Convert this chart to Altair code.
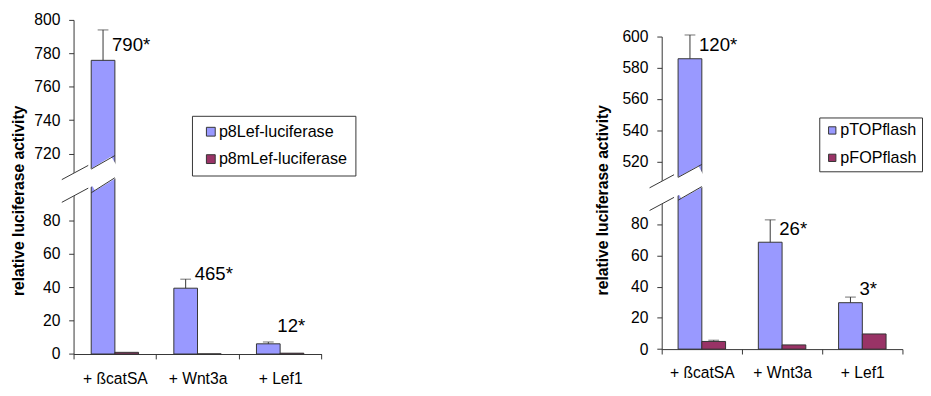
import altair as alt
import pandas as pd

# ---------------- data ----------------
categories = ["+ ßcatSA", "+ Wnt3a", "+ Lef1"]

left_series = ["p8Lef-luciferase", "p8mLef-luciferase"]
left_reporter = [775.8, 39.4, 6.1]
left_reporter_err = [18.2, 5.4, 1.1]
left_mutant = [1.0, 0.08, 0.5]
left_mutant_err = [0.0, 0.0, 0.0]
left_fold = ["790*", "465*", "12*"]
left_fold_at = [785.0, 47.7, 16.6]
left_ticks = [0, 20, 40, 60, 80, 720, 740, 760, 780, 800]

right_series = ["pTOPflash", "pFOPflash"]
right_reporter = [585.8, 68.4, 29.7]
right_reporter_err = [15.2, 14.3, 3.6]
right_mutant = [4.9, 2.7, 9.7]
right_mutant_err = [0.8, 0.0, 0.0]
right_fold = ["120*", "26*", "3*"]
right_fold_at = [594.3, 76.9, 38.5]
right_ticks = [0, 20, 40, 60, 80, 520, 540, 560, 580, 600]

# axis break: values above CUT are drawn shifted down by the panel's shift
CUT = 100
left_shift = 600
right_shift = 400

# ---------------- styling ----------------
BLUE = "#9999FF"
RED = "#993366"
EDGE = "#333333"
FONT = "Liberation Sans"
TITLE = "relative luciferase activity"
one = pd.DataFrame({"k": [0]})
PANEL_H = 341.4


def pv(v, shift):
    return v - shift if v > CUT else v


def panel(series, reporter, reporter_err, mutant, mutant_err, fold, fold_at, ticks, shift,
          width, yrange, pad_outer, legend, title_xy, whites, blacks, xpad):
    rows = []
    for i, c in enumerate(categories):
        for s, val, err in ((series[0], reporter[i], reporter_err[i]),
                            (series[1], mutant[i], mutant_err[i])):
            rows.append({"cat": c, "series": s, "value": val,
                         "plot": pv(val, shift), "top": pv(val + err, shift), "err": err})
    df = pd.DataFrame(rows)
    lab = pd.DataFrame({"cat": categories, "series": [series[1]] * 3, "text": fold,
                        "plot": [pv(v, shift) for v in fold_at]})

    x_axis = alt.Axis(title=None, labelAngle=0, tickBand="extent", labelFontSize=16,
                      labelFont=FONT, labelColor="black", labelPadding=xpad,
                      tickSize=5, tickColor=EDGE, domainColor=EDGE, zindex=0,
                      offset=yrange[0] - PANEL_H)
    x_scale = alt.Scale(paddingInner=0, paddingOuter=0)
    y_axis = alt.Axis(values=[pv(t, shift) for t in ticks],
                      labelExpr=f"datum.value > {CUT} ? datum.value + {shift} : datum.value",
                      labelOverlap=False, labelFlush=False,
                      grid=False, tickSize=5, tickColor=EDGE, domainColor=EDGE,
                      labelFontSize=16, labelFont=FONT, labelColor="black", labelPadding=9,
                      title=TITLE, titleFont=FONT, titleFontSize=16, titleFontWeight="bold",
                      titleColor="black", titleAngle=270, titleX=title_xy[0], titleY=title_xy[1],
                      titleAlign="center", titleBaseline="middle", zindex=0)
    y_scale = alt.Scale(domain=[0, 200], nice=False, range=list(yrange))

    def X():
        return alt.X("cat:N", sort=categories, scale=x_scale, axis=x_axis)

    def XO():
        return alt.XOffset("series:N", sort=series,
                           scale=alt.Scale(domain=series, paddingInner=0, paddingOuter=pad_outer))

    def Y(field):
        return alt.Y(field, type="quantitative", scale=y_scale, axis=y_axis)

    color = alt.Color("series:N", sort=series,
                      scale=alt.Scale(domain=series, range=[BLUE, RED]),
                      legend=alt.Legend(**legend))

    base = alt.Chart(df)
    bars = base.mark_bar(stroke=EDGE, strokeWidth=1).encode(x=X(), xOffset=XO(), y=Y("plot"), color=color)

    def seg(x1, y1, x2, y2, col, w):
        return alt.Chart(one).mark_rule(color=col, strokeWidth=w, strokeCap="butt").encode(
            x=alt.value(x1), x2=alt.value(x2),
            y=alt.Y(datum=y1, scale=y_scale, axis=y_axis), y2=alt.datum(y2))

    layers = [bars]
    for (x1, y1, x2, y2, w) in whites:
        layers.append(seg(x1, y1, x2, y2, "white", w))
    for (x1, y1, x2, y2) in blacks:
        layers.append(seg(x1, y1, x2, y2, EDGE, 1))

    err_base = base.transform_filter("datum.err > 0")
    err_line = err_base.mark_rule(color=EDGE, strokeWidth=1).encode(
        x=X(), xOffset=XO(), y=Y("plot"), y2="top:Q")
    err_cap = err_base.mark_tick(color=EDGE, thickness=1, size=11, orient="horizontal").encode(
        x=X(), xOffset=XO(), y=Y("top"))
    labels = alt.Chart(lab).mark_text(font=FONT, fontSize=19, align="left", baseline="middle",
                                      dx=-15, color="black").encode(
        x=X(), xOffset=XO(), y=Y("plot"), text="text:N")
    layers += [err_line, err_cap, labels]
    return alt.layer(*layers).properties(width=width, height=PANEL_H)


left_legend = dict(title=None, orient="none", legendX=121, legendY=98, direction="vertical",
                   symbolType="square", symbolSize=81, symbolStrokeColor=EDGE, symbolStrokeWidth=1,
                   labelFontSize=16.5, labelFont=FONT, labelColor="black", rowPadding=11,
                   padding=8, symbolOffset=3, labelOffset=0, strokeColor=EDGE, fillColor="white")
right_legend = dict(title=None, orient="none", legendX=161, legendY=99.7, direction="vertical",
                    symbolType="square", symbolSize=56, symbolStrokeColor=EDGE, symbolStrokeWidth=1,
                    labelFontSize=16.5, labelFont=FONT, labelColor="black", rowPadding=11,
                    padding=5, symbolOffset=0, labelOffset=0, strokeColor=EDGE, fillColor="white")

left = panel(left_series, left_reporter, left_reporter_err, left_mutant, left_mutant_err,
             left_fold, left_fold_at, left_ticks, left_shift,
             width=253.3, yrange=(PANEL_H, 0), pad_outer=0.745, legend=left_legend,
             title_xy=(-56.4, 184.4),
             whites=[(-14, 97.0, 16, 106.4, 21), (16.5, 103.1, 44, 112.8, 21.5)],
             blacks=[(-12, 104.4, 15, 112.9), (-12, 90.8, 15, 99.3),
                     (18, 110.7, 42.2, 118.8), (18, 96.5, 42.2, 105.5)],
             xpad=12)

right = panel(right_series, right_reporter, right_reporter_err, right_mutant, right_mutant_err,
              right_fold, right_fold_at, right_ticks, right_shift,
              width=246, yrange=(336.4, 17), pad_outer=0.69, legend=right_legend,
              title_xy=(-60.7, 183.7),
              whites=[(-14, 95.45, 14, 104.85, 21), (15, 102.0, 42.5, 111.6, 21)],
              blacks=[(-12.4, 103.2, 12.6, 111.6), (-12.4, 88.7, 12.6, 97.1),
                      (16.8, 109.9, 41, 118.2), (16.8, 95.3, 41, 104.0)],
              xpad=11)

chart = alt.hconcat(left, right, spacing=243).resolve_scale(
    color="independent", xOffset="independent", x="independent", y="independent"
).resolve_legend(color="independent").configure_view(strokeWidth=0).configure_axis(
    labelOverlap=False).properties(
    padding={"left": 2, "top": 0, "right": 0, "bottom": 0})

chart.save("out.html", embed_options={"renderer": "svg", "actions": False})
